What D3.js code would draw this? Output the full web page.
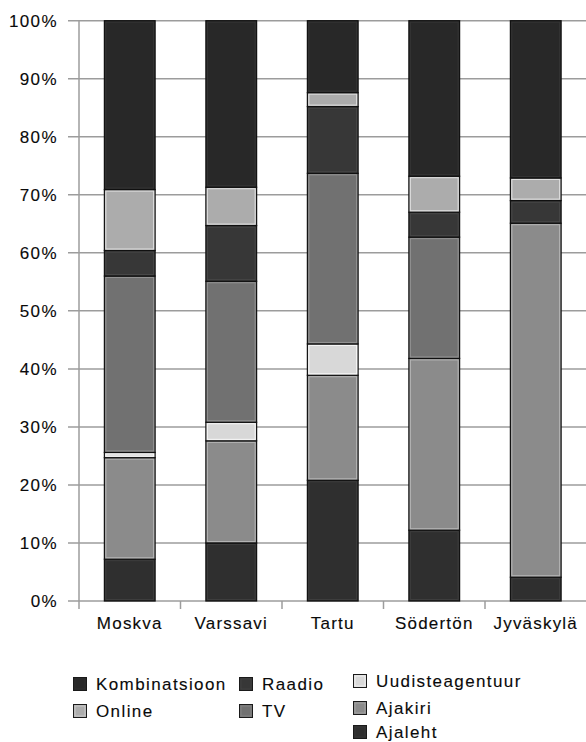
<!DOCTYPE html>
<html>
<head>
<meta charset="utf-8">
<script src="https://cdn.jsdelivr.net/npm/d3@7"></script>
<style>
  html, body { margin: 0; padding: 0; background: #fff; }
  svg { display: block; font-family: "Liberation Sans", Arial, sans-serif; }
  svg text { fill: #0a0a0a; stroke: #0a0a0a; stroke-width: 0.12px; }
</style>
</head>
<body>
<svg id="chart" width="586" height="742"></svg>
<script>
// Cities on the x axis
const categories = ["Moskva", "Varssavi", "Tartu", "Södertön", "Jyväskylä"];

// Share of each source type (%), stacked bottom to top
const ajaleht         = [7.2, 10.0, 20.8, 12.2, 4.1];
const ajakiri         = [17.5, 17.6, 18.1, 29.6, 61.0];
const uudisteagentuur = [0.9, 3.2, 5.4, 0.0, 0.0];
const tv              = [30.4, 24.3, 29.4, 20.9, 0.0];
const raadio          = [4.4, 9.6, 11.5, 4.3, 3.9];
const online          = [10.5, 6.6, 2.4, 6.2, 3.9];
const kombinatsioon   = [29.1, 28.7, 12.4, 26.8, 27.1];

// Series names in stacking order (bottom first)
const seriesNames = ["Ajaleht", "Ajakiri", "Uudisteagentuur", "TV", "Raadio", "Online", "Kombinatsioon"];
const seriesValues = [ajaleht, ajakiri, uudisteagentuur, tv, raadio, online, kombinatsioon];

// Legend layout: columns of series names
const legendColumns = [
  ["Kombinatsioon", "Online"],
  ["Raadio", "TV"],
  ["Uudisteagentuur", "Ajakiri", "Ajaleht"]
];

const yTicks = [0, 0.1, 0.2, 0.3, 0.4, 0.5, 0.6, 0.7, 0.8, 0.9, 1.0];

const fills = {
  "Ajaleht": "#2f2f2f",
  "Ajakiri": "#8b8b8b",
  "Uudisteagentuur": "#d8d8d8",
  "TV": "#717171",
  "Raadio": "#373737",
  "Online": "#acacac",
  "Kombinatsioon": "#282828"
};

const svg = d3.select("#chart");

const plot = { left: 79, right: 586.5, top: 20.7, bottom: 601 };

// Build rows for d3.stack
const rows = categories.map((c, i) => {
  const r = { city: c };
  seriesNames.forEach((s, k) => { r[s] = seriesValues[k][i]; });
  return r;
});
const stacked = d3.stack().keys(seriesNames).offset(d3.stackOffsetExpand)(rows);

const x = d3.scaleBand()
  .domain(categories)
  .range([plot.left, plot.right])
  .paddingInner(0.5)
  .paddingOuter(0.25);

const y = d3.scaleLinear().domain([0, 1]).range([plot.bottom, plot.top]);

const gridColor = "#9c9c9c";

// Horizontal gridlines with left ticks
svg.append("g")
  .selectAll("line")
  .data(yTicks)
  .join("line")
  .attr("x1", plot.left - 11)
  .attr("x2", plot.right)
  .attr("y1", d => y(d))
  .attr("y2", d => y(d))
  .attr("stroke", gridColor)
  .attr("stroke-width", 1.5);

// Vertical axis line
svg.append("line")
  .attr("x1", plot.left).attr("x2", plot.left)
  .attr("y1", y(1)).attr("y2", y(0) + 8)
  .attr("stroke", gridColor).attr("stroke-width", 1.5);

// Category boundary ticks below the baseline
const step = x.step();
const boundaries = categories.map(c => x(c) - x.paddingOuter() * step);
svg.append("g")
  .selectAll("line")
  .data(boundaries.slice(1))
  .join("line")
  .attr("x1", d => d).attr("x2", d => d)
  .attr("y1", y(0)).attr("y2", y(0) + 8)
  .attr("stroke", gridColor).attr("stroke-width", 1.5);

// Y tick labels
svg.append("g")
  .selectAll("text")
  .data(yTicks)
  .join("text")
  .attr("x", 58)
  .attr("y", d => y(d) + 6)
  .attr("text-anchor", "end")
  .attr("font-size", 17)
  .attr("letter-spacing", 1.4)
  .text(d3.format(".0%"));

// Stacked bars
const bw = x.bandwidth();
const layers = svg.append("g")
  .selectAll("g")
  .data(stacked)
  .join("g");

layers.each(function(layer) {
  const g = d3.select(this);
  const color = fills[layer.key];
  const segs = layer.filter(d => d[1] - d[0] > 0);
  g.selectAll("rect.seg")
    .data(segs)
    .join("rect")
    .attr("class", "seg")
    .attr("x", d => x(d.data.city))
    .attr("y", d => y(d[1]))
    .attr("width", bw)
    .attr("height", d => y(d[0]) - y(d[1]))
    .attr("fill", color)
    .attr("stroke", "#101010")
    .attr("stroke-width", 1.2);
  // inner highlight line
  g.selectAll("rect.hi")
    .data(segs.filter(d => y(d[0]) - y(d[1]) > 3))
    .join("rect")
    .attr("class", "hi")
    .attr("x", d => x(d.data.city) + 1.5)
    .attr("y", d => y(d[1]) + 1.5)
    .attr("width", bw - 3)
    .attr("height", d => y(d[0]) - y(d[1]) - 3)
    .attr("fill", "none")
    .attr("stroke", d3.color(color).brighter(0.9))
    .attr("stroke-opacity", 0.8)
    .attr("stroke-width", 1);
});

// Category labels
svg.append("g")
  .selectAll("text")
  .data(categories)
  .join("text")
  .attr("x", d => x(d) + bw / 2)
  .attr("y", 629)
  .attr("text-anchor", "middle")
  .attr("font-size", 17)
  .attr("letter-spacing", 1.2)
  .text(d => d);

// Legend
const colX = [73, 239, 353];
const colY = [[677, 704], [677, 704], [674, 701, 725]];
legendColumns.forEach((col, ci) => {
  col.forEach((name, ri) => {
    const g = svg.append("g")
      .attr("transform", `translate(${colX[ci]},${colY[ci][ri]})`);
    g.append("rect")
      .attr("x", 0.5).attr("y", 0.5)
      .attr("width", 13).attr("height", 13)
      .attr("fill", fills[name])
      .attr("stroke", "#1a1a1a")
      .attr("stroke-width", 1);
    g.append("rect")
      .attr("x", 2).attr("y", 2)
      .attr("width", 10).attr("height", 10)
      .attr("fill", "none")
      .attr("stroke", d3.color(fills[name]).brighter(0.7))
      .attr("stroke-opacity", 0.6)
      .attr("stroke-width", 1);
    g.append("text")
      .attr("x", 23)
      .attr("y", 12.5)
      .attr("font-size", 17)
      .attr("letter-spacing", 1.4)
      .text(name);
  });
});
</script>
</body>
</html>
